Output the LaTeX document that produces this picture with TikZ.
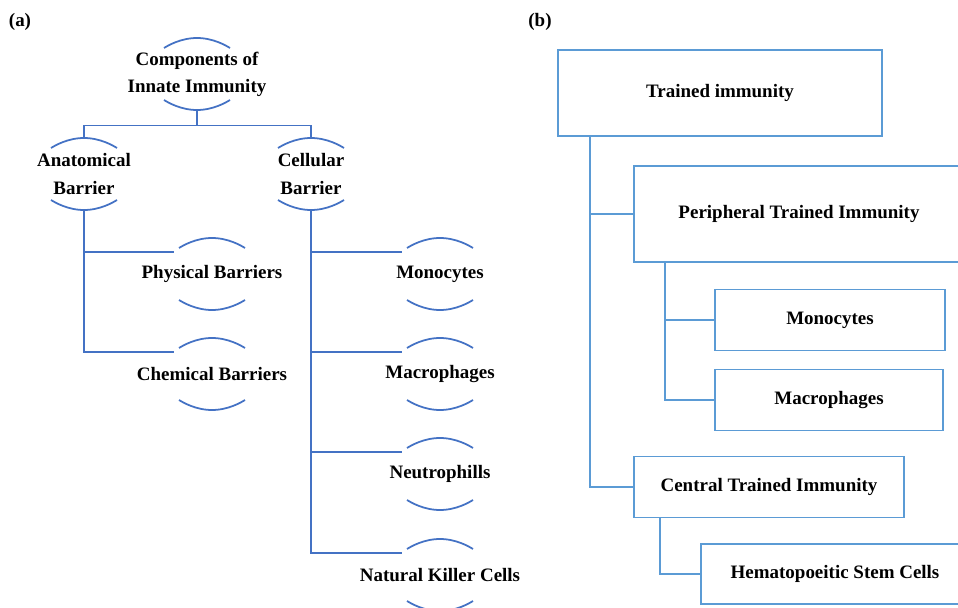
\documentclass[tikz,border=0pt]{standalone}
\usepackage{fontspec}
\setmainfont{Liberation Serif}
\usetikzlibrary{positioning, calc}

\definecolor{lineblue}{RGB}{68,114,196}
\definecolor{boxblue}{RGB}{91,155,213}

% top and bottom arcs round a component node, and the point its branch comes in at
\newcommand{\arcs}[1]{%
	\draw[link] ([shift={(-33,-26)}]#1.center) parabola bend ([shift={(0,-36)}]#1.center) ([shift={(33,-26)}]#1.center);
	\draw[link] ([shift={(-33,26)}]#1.center) parabola bend ([shift={(0,36)}]#1.center) ([shift={(33,26)}]#1.center);
	\coordinate (#1-in) at ([shift={(-38,-22)}]#1.center);}

\begin{document}
\begin{tikzpicture}[x=0.02cm, y=-0.02cm, semithick,
		every node/.style={font=\bfseries\fontsize{10.8}{15.4}\selectfont},
		link/.style={draw=lineblue, line width=1pt},
		comp/.style={inner sep=0pt, minimum height=1.44cm, align=center},
		box/.style={rectangle, draw=boxblue, line width=1.1pt, text centered, minimum height=1.22cm},
		boxlink/.style={draw=boxblue, line width=1.1pt}]
	
	\useasboundingbox (0,0) rectangle (958,608);
	
	% (a) components of innate immunity
	\node (labA) at (20,22) {(a)};
	\node[comp] (Root) at (197,74) {Components of\\Innate Immunity};
	\node[comp] (Anat) at (84,174) {Anatomical\\Barrier};
	\node[comp] (Cell) at (311,174) {Cellular\\Barrier};
	\node[comp] (Phys) at (212,274) {Physical Barriers};
	\node[comp] (Chem) at (212,374) {Chemical Barriers};
	\node[comp] (Mono) at (440,274) {Monocytes};
	\node[comp] (Macro) at (440,374) {Macrophages};
	\node[comp] (Neut) at (440,474) {Neutrophills};
	\node[comp] (NK) at (440,575) {Natural Killer Cells};
	
	\foreach \n in {Root, Anat, Cell, Phys, Chem, Mono, Macro, Neut, NK}{
		\arcs{\n}
	}
	
	\draw[link] (Root.south) -- ++(0,15) -| (Anat.north);
	\draw[link] (Root.south) -- ++(0,15) -| (Cell.north);
	\draw[link] (Anat.south) |- (Phys-in);
	\draw[link] (Anat.south) |- (Chem-in);
	\draw[link] (Cell.south) |- (Mono-in);
	\draw[link] (Cell.south) |- (Macro-in);
	\draw[link] (Cell.south) |- (Neut-in);
	\draw[link] (Cell.south) |- (NK-in);
	
	% (b) trained immunity
	\node (labB) at (540,22) {(b)};
	\node[box, minimum width=6.48cm, minimum height=1.72cm] (Trained) at (720,93) {Trained immunity};
	\node[box, minimum width=6.6cm, minimum height=1.92cm] (Periph) at (799,214) {Peripheral Trained Immunity};
	\node[box, minimum width=4.6cm] (TMono) at (830,320) {Monocytes};
	\node[box, minimum width=4.56cm] (TMacro) at (829,400) {Macrophages};
	\node[box, minimum width=5.4cm] (Central) at (769,487) {Central Trained Immunity};
	\node[box, minimum width=5.36cm, minimum height=1.2cm] (HSC) at (835,574) {Hematopoeitic Stem Cells};
	
	\draw[boxlink] ([shift={(33,0)}]Trained.south west) |- (Periph.west);
	\draw[boxlink] ([shift={(33,0)}]Trained.south west) |- (Central.west);
	\draw[boxlink] ([shift={(32,0)}]Periph.south west) |- (TMono.west);
	\draw[boxlink] ([shift={(32,0)}]Periph.south west) |- (TMacro.west);
	\draw[boxlink] ([shift={(27,0)}]Central.south west) |- (HSC.west);
	
\end{tikzpicture}
\end{document}
